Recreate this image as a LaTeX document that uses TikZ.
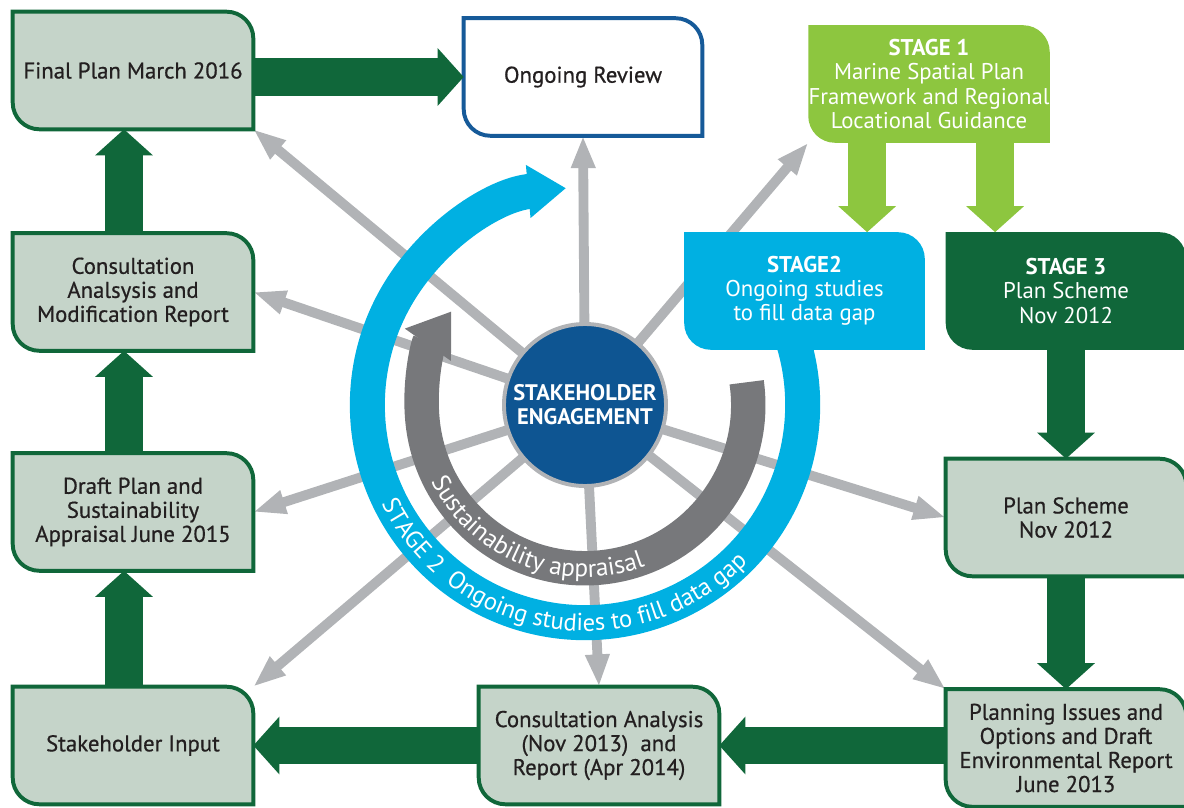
\documentclass[tikz,border=0pt]{standalone}
\usepackage{fontspec}
\setmainfont{PT Sans}
\newfontfamily\boxfont{PT Sans}[FakeBold=0.6]
\usetikzlibrary{arrows.meta,positioning,calc,decorations.text}

\definecolor{dgreen}{HTML}{10673A}
\definecolor{boxfill}{HTML}{C5D4C9}
\definecolor{lgreen}{HTML}{8DC63F}
\definecolor{ringcyan}{HTML}{00B0E2}
\definecolor{hubblue}{HTML}{0E5592}
\definecolor{revblue}{HTML}{165A99}
\definecolor{spokegray}{HTML}{B1B3B6}
\definecolor{arcgray}{HTML}{77787B}
\definecolor{txt}{HTML}{231F20}

\pgfdeclarelayer{spokes}
\pgfdeclarelayer{rings}
\pgfdeclarelayer{shapes}
\pgfsetlayers{spokes,rings,shapes,main}

% box outline: sharp top-left and bottom-right, round the other two
\newcommand{\tabshape}[2]{%
  \path[#2] (#1.north west) -- ([xshift=-19pt]#1.north east)
    arc[start angle=90, end angle=0, radius=19pt] -- (#1.south east)
    -- ([xshift=19pt]#1.south west)
    arc[start angle=270, end angle=180, radius=19pt] -- cycle;}

\tikzset{
  gbox/.style={minimum width=6cm, minimum height=2.925cm, inner sep=0pt,
    align=center, text=txt, font=\boxfont\fontsize{16.2}{17.1}\selectfont},
  sbox/.style={gbox, text=white, font=\fontsize{16.2}{17.1}\selectfont},
  gshape/.style={draw=dgreen, fill=boxfill, line width=2.8pt},
  bigarrow/.style={draw=dgreen, line width=27pt,
    -{Triangle[length=18.5pt,width=40pt]}},
  lgarrow/.style={bigarrow, draw=lgreen},
  spoke/.style={draw=spokegray, line width=7pt,
    -{Triangle[length=23pt,width=16pt]}}
}

\begin{document}
\begin{tikzpicture}[x=0.025cm, y=-0.025cm]
  \useasboundingbox (0,0) rectangle (1184,808);

  % left column
  \node[gbox] (final) at (133,70.5) {Final Plan March 2016};
  \node[gbox] (cam) at (133,292) {Consultation\\Analsysis and\\Modification Report};
  \node[gbox] (draft) at (133,512) {Draft Plan and\\Sustainability\\Appraisal June 2015};
  \node[gbox] (input) at (133,745.5) {Stakeholder Input};

  % top and bottom middle
  \node[gbox, minimum width=5.95cm] (review) at (583,77) {Ongoing Review};
  \node[gbox] (ca) at (599,745.5) {Consultation Analysis\\(Nov 2013)~~and\\Report (Apr 2014)};

  % stages
  \node[sbox] (s1) at (929,84) {\textbf{STAGE 1}\\Marine Spatial Plan\\Framework and Regional\\Locational Guidance};
  \node[sbox] (s2) at (804.5,291) {\textbf{STAGE2}\\Ongoing studies\\to fill data gap};
  \node[sbox] (s3) at (1066,291) {\textbf{STAGE 3}\\Plan Scheme\\Nov 2012};

  % right column
  \node[gbox] (ps) at (1066,517.5) {Plan Scheme\\Nov 2012};
  \node[gbox] (pi) at (1066,748) {Planning Issues and\\Options and Draft\\Environmental Report\\June 2013};

  % hub
  \node[circle, fill=hubblue, draw=spokegray, line width=2.8pt,
    minimum size=4.05cm, inner sep=0pt, text=white, align=center,
    font=\bfseries\fontsize{16}{17}\selectfont] (hub) at (585,405)
    {STAKEHOLDER\\ENGAGEMENT};

  \begin{pgfonlayer}{shapes}
    \foreach \b in {final,cam,draft,input,ca,ps,pi}
      \tabshape{\b}{gshape};
    \tabshape{review}{draw=revblue, fill=white, line width=2.8pt}
    \tabshape{s1}{fill=lgreen}
    \tabshape{s2}{fill=ringcyan}
    \tabshape{s3}{fill=dgreen}
  \end{pgfonlayer}

  % spokes out of the hub
  \begin{pgfonlayer}{spokes}
    \foreach \t in {final.south east, review.south, s1.south west, cam.east,
        draft.east, input.north east, ca.north, pi.north west, ps.west}
      \draw[spoke] (hub.center) -- (\t);
  \end{pgfonlayer}

  % the two rings
  \begin{pgfonlayer}{rings}
    \draw[ringcyan, line width=24.9pt, -{Triangle[length=27pt,width=36pt]}]
      ($(hub.center)+(30:5.44cm)$) arc[start angle=30, end angle=-265, radius=5.44cm];
    \draw[arcgray, line width=24.5pt, -{Triangle[length=29pt,width=38pt]}]
      ($(hub.center)+(8:4.08cm)$) arc[start angle=8, end angle=-215, radius=4.08cm];
    \path[decorate, decoration={text along path, text align=center,
        text={|\color{white}\fontsize{17.5}{17.5}\selectfont|STAGE 2{\ \ }Ongoing studies to fill data gap}}]
      ($(hub.center)+(190:5.65cm)$) arc[start angle=190, end angle=332, radius=5.65cm];
    \path[decorate, decoration={text along path, text align=center,
        text={|\color{white}\fontsize{18}{18}\selectfont|Sustainability appraisal}}]
      ($(hub.center)+(196:4.3cm)$) arc[start angle=196, end angle=301, radius=4.3cm];
  \end{pgfonlayer}

  % main flow
  \draw[bigarrow] (final.east |- review.west) -- (review.west);
  \draw[bigarrow] ([xshift=-6.4pt]cam.north) -- ([xshift=-6.4pt]final.south);
  \draw[bigarrow] ([xshift=-6.4pt]draft.north) -- ([xshift=-6.4pt]cam.south);
  \draw[bigarrow] ([xshift=-6.4pt]input.north) -- ([xshift=-6.4pt]draft.south);
  \draw[bigarrow] (ca.west) -- (input.east);
  \draw[bigarrow] (pi.west |- ca.east) -- (ca.east);
  \draw[bigarrow] (s3.south) -- (ps.north);
  \draw[bigarrow] (ps.south) -- (pi.north);
  \draw[lgarrow] ([xshift=-44pt]s1.south) -- ([xshift=-44pt]s1.south |- s2.north);
  \draw[lgarrow] ([xshift=47pt]s1.south) -- ([xshift=47pt]s1.south |- s3.north);
\end{tikzpicture}
\end{document}
